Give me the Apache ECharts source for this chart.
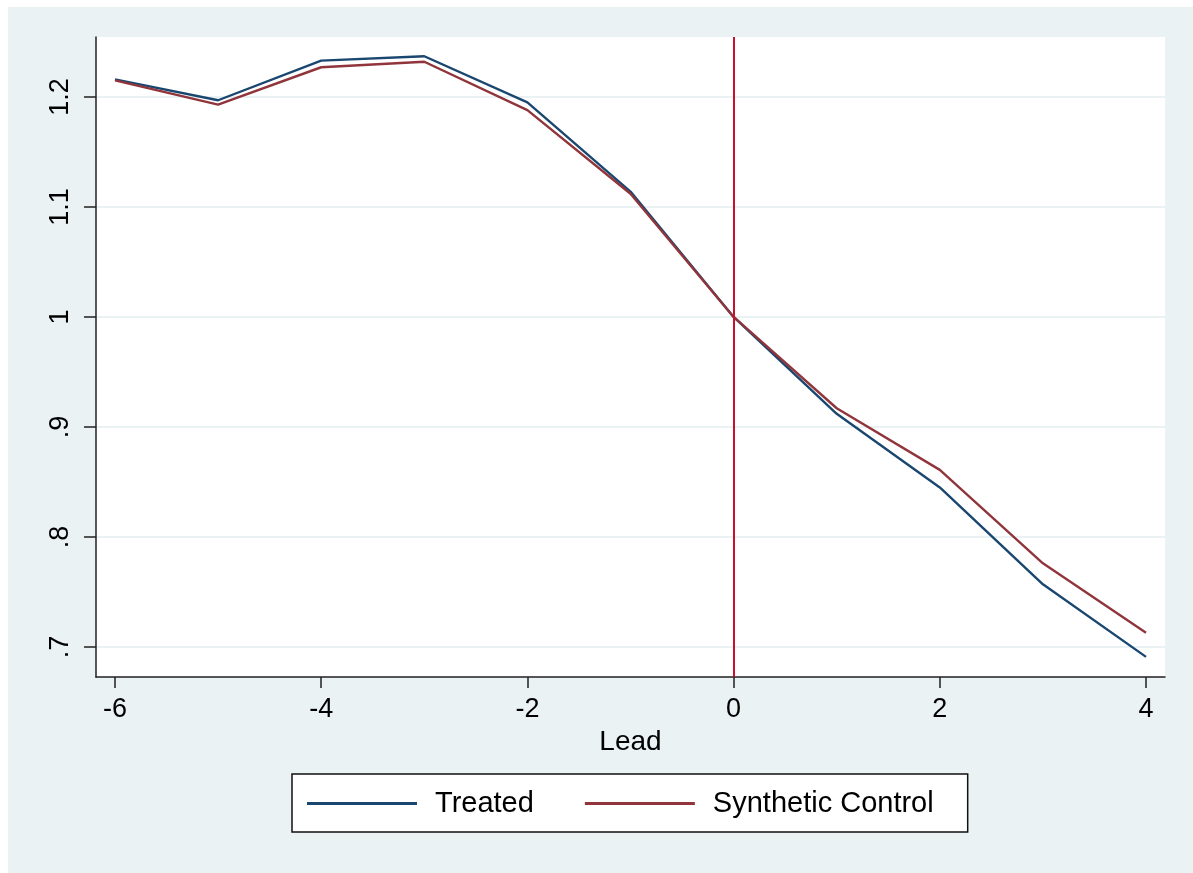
<!DOCTYPE html>
<html>
<head>
    <meta charset="UTF-8"/>
    <title>Treated vs Synthetic Control</title>
    <script type="text/javascript" src="https://cdn.jsdelivr.net/npm/echarts@6/dist/echarts.min.js"></script>
    <style>
        html, body { margin: 0; padding: 0; background: #ffffff; }
        #chart { position: absolute; left: 8px; top: 7px; width: 1185px; height: 866px; }
    </style>
</head>
<body>
<div id="chart"></div>
<script>
    // values
    var lead = [-6, -5, -4, -3, -2, -1, 0, 1, 2, 3, 4];
    var treated = [1.216, 1.197, 1.233, 1.237, 1.195, 1.114, 1.000, 0.912, 0.845, 0.757, 0.691];
    var synthetic = [1.215, 1.193, 1.227, 1.232, 1.188, 1.112, 1.000, 0.917, 0.861, 0.776, 0.713];
    var xTicks = [-6, -4, -2, 0, 2, 4];
    var yTicks = [0.7, 0.8, 0.9, 1.0, 1.1, 1.2];
    var treatLine = 0;

    function pairs(ys) {
        var out = [];
        for (var i = 0; i < lead.length; i++) out.push([lead[i], ys[i]]);
        return out;
    }
    function yFmt(v) {
        return String(+(+v).toFixed(1)).replace(/^0\./, '.');
    }

    var font = 'Liberation Sans, Arial, Helvetica, sans-serif';
    var chart = echarts.init(document.getElementById('chart'));
    chart.setOption({
        backgroundColor: '#eaf2f3',
        animation: false,
        grid: {
            left: 88, top: 30, right: 28, bottom: 196,
            show: true, backgroundColor: '#ffffff', borderWidth: 0
        },
        xAxis: {
            type: 'value',
            min: -6.184, max: 4.184,
            name: 'Lead', nameLocation: 'middle', nameGap: 50,
            nameTextStyle: { fontSize: 28, color: '#000', fontFamily: font },
            axisLine: { show: true, onZero: false, lineStyle: { color: '#222', width: 1.5 } },
            axisTick: { show: true, length: 11, customValues: xTicks, lineStyle: { color: '#222', width: 1.5 } },
            axisLabel: { customValues: xTicks, margin: 19, fontSize: 27, color: '#000', fontFamily: font },
            splitLine: { show: false }
        },
        yAxis: {
            type: 'value',
            min: 0.6727, max: 1.2545,
            axisLine: { show: true, onZero: false, lineStyle: { color: '#222', width: 1.5 } },
            axisTick: { show: true, length: 12, customValues: yTicks, lineStyle: { color: '#222', width: 1.5 } },
            axisLabel: {
                customValues: yTicks, rotate: 90, margin: 22, fontSize: 27,
                color: '#000', fontFamily: font, formatter: yFmt
            },
            splitLine: { show: true, lineStyle: { color: '#eaf2f3', width: 2 } }
        },
        legend: {
            left: 284, top: 767,
            padding: [15, 34, 14, 15],
            itemGap: 51,
            itemWidth: 110, itemHeight: 3,
            icon: 'rect',
            borderColor: '#111', borderWidth: 1.5,
            backgroundColor: '#ffffff',
            textStyle: { fontSize: 29, color: '#000', fontFamily: font, padding: [0, 0, 0, 13] },
            data: ['Treated', 'Synthetic Control']
        },
        series: [
            {
                name: 'Treated', type: 'line', data: pairs(treated),
                showSymbol: false, symbol: 'none', color: '#1a476f',
                lineStyle: { width: 2.4, color: '#1a476f' }, z: 3
            },
            {
                name: 'Synthetic Control', type: 'line', data: pairs(synthetic),
                showSymbol: false, symbol: 'none', color: '#90353b',
                lineStyle: { width: 2.4, color: '#90353b' }, z: 4,
                markLine: {
                    silent: true, symbol: 'none', label: { show: false },
                    lineStyle: { color: '#c8102e', width: 2, type: 'solid' },
                    data: [{ xAxis: treatLine }]
                }
            }
        ]
    });
</script>
</body>
</html>
